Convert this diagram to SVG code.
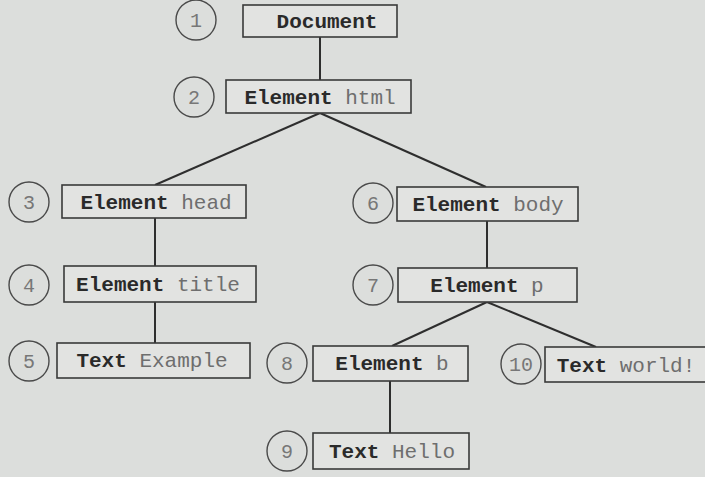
<svg xmlns="http://www.w3.org/2000/svg" width="705" height="477" viewBox="0 0 705 477">
<style>
.bg{fill:#dcdedc}
.box{fill:#e2e3e1;stroke:#3a3a3a;stroke-width:1.6}
.num{fill:none;stroke:#4a4a4a;stroke-width:1.4}
.nt{font-family:"Liberation Mono",monospace;font-size:20px;fill:#777;text-anchor:middle}
.t{font-family:"Liberation Mono",monospace;font-size:21px;text-anchor:middle}
.k{font-weight:bold;fill:#2a2a2a}
.v{fill:#6e6e6e}
.c{stroke:#2e2e2e;stroke-width:2;fill:none}
</style>
<rect class="bg" x="0" y="0" width="705" height="477"/>
<g id="connectors">
<line class="c" x1="320" y1="37" x2="320" y2="80"/>
<line class="c" x1="320" y1="113" x2="155" y2="185"/>
<line class="c" x1="320" y1="113" x2="486" y2="187"/>
<line class="c" x1="155" y1="218" x2="155" y2="266"/>
<line class="c" x1="155" y1="302" x2="155" y2="343"/>
<line class="c" x1="487" y1="221" x2="487" y2="268"/>
<line class="c" x1="487" y1="302" x2="392" y2="346"/>
<line class="c" x1="487" y1="302" x2="596" y2="347"/>
<line class="c" x1="390" y1="381" x2="390" y2="433"/>
</g>
<g id="n1"><circle class="num" cx="196" cy="20" r="20"/><text class="nt" x="196" y="27">1</text><rect class="box" x="243" y="5" width="154" height="32"/><text class="t" x="327" y="28"><tspan class="k">Document</tspan></text></g>
<g id="n2"><circle class="num" cx="194" cy="97" r="20"/><text class="nt" x="194" y="104">2</text><rect class="box" x="226" y="80" width="185" height="33"/><text class="t" x="320" y="104"><tspan class="k">Element</tspan> <tspan class="v">html</tspan></text></g>
<g id="n3"><circle class="num" cx="29" cy="202" r="20"/><text class="nt" x="29" y="209">3</text><rect class="box" x="62" y="185" width="184" height="33"/><text class="t" x="156" y="209"><tspan class="k">Element</tspan> <tspan class="v">head</tspan></text></g>
<g id="n4"><circle class="num" cx="29" cy="285" r="20"/><text class="nt" x="29" y="292">4</text><rect class="box" x="64" y="266" width="192" height="36"/><text class="t" x="158" y="291"><tspan class="k">Element</tspan> <tspan class="v">title</tspan></text></g>
<g id="n5"><circle class="num" cx="29" cy="361" r="20"/><text class="nt" x="29" y="368">5</text><rect class="box" x="57" y="343" width="193" height="35"/><text class="t" x="152" y="367"><tspan class="k">Text</tspan> <tspan class="v">Example</tspan></text></g>
<g id="n6"><circle class="num" cx="373" cy="203" r="20"/><text class="nt" x="373" y="210">6</text><rect class="box" x="397" y="187" width="181" height="34"/><text class="t" x="488" y="211"><tspan class="k">Element</tspan> <tspan class="v">body</tspan></text></g>
<g id="n7"><circle class="num" cx="373" cy="285" r="20"/><text class="nt" x="373" y="292">7</text><rect class="box" x="398" y="268" width="179" height="34"/><text class="t" x="487" y="292"><tspan class="k">Element</tspan> <tspan class="v">p</tspan></text></g>
<g id="n8"><circle class="num" cx="287" cy="363" r="20"/><text class="nt" x="287" y="370">8</text><rect class="box" x="313" y="346" width="155" height="35"/><text class="t" x="392" y="370"><tspan class="k">Element</tspan> <tspan class="v">b</tspan></text></g>
<g id="n9"><circle class="num" cx="287" cy="451" r="20"/><text class="nt" x="287" y="458">9</text><rect class="box" x="313" y="433" width="156" height="36"/><text class="t" x="392" y="458"><tspan class="k">Text</tspan> <tspan class="v">Hello</tspan></text></g>
<g id="n10"><circle class="num" cx="521" cy="364" r="20"/><text class="nt" x="521" y="371">10</text><rect class="box" x="545" y="347" width="162" height="35"/><text class="t" x="626" y="372"><tspan class="k">Text</tspan> <tspan class="v">world!</tspan></text></g>
</svg>
